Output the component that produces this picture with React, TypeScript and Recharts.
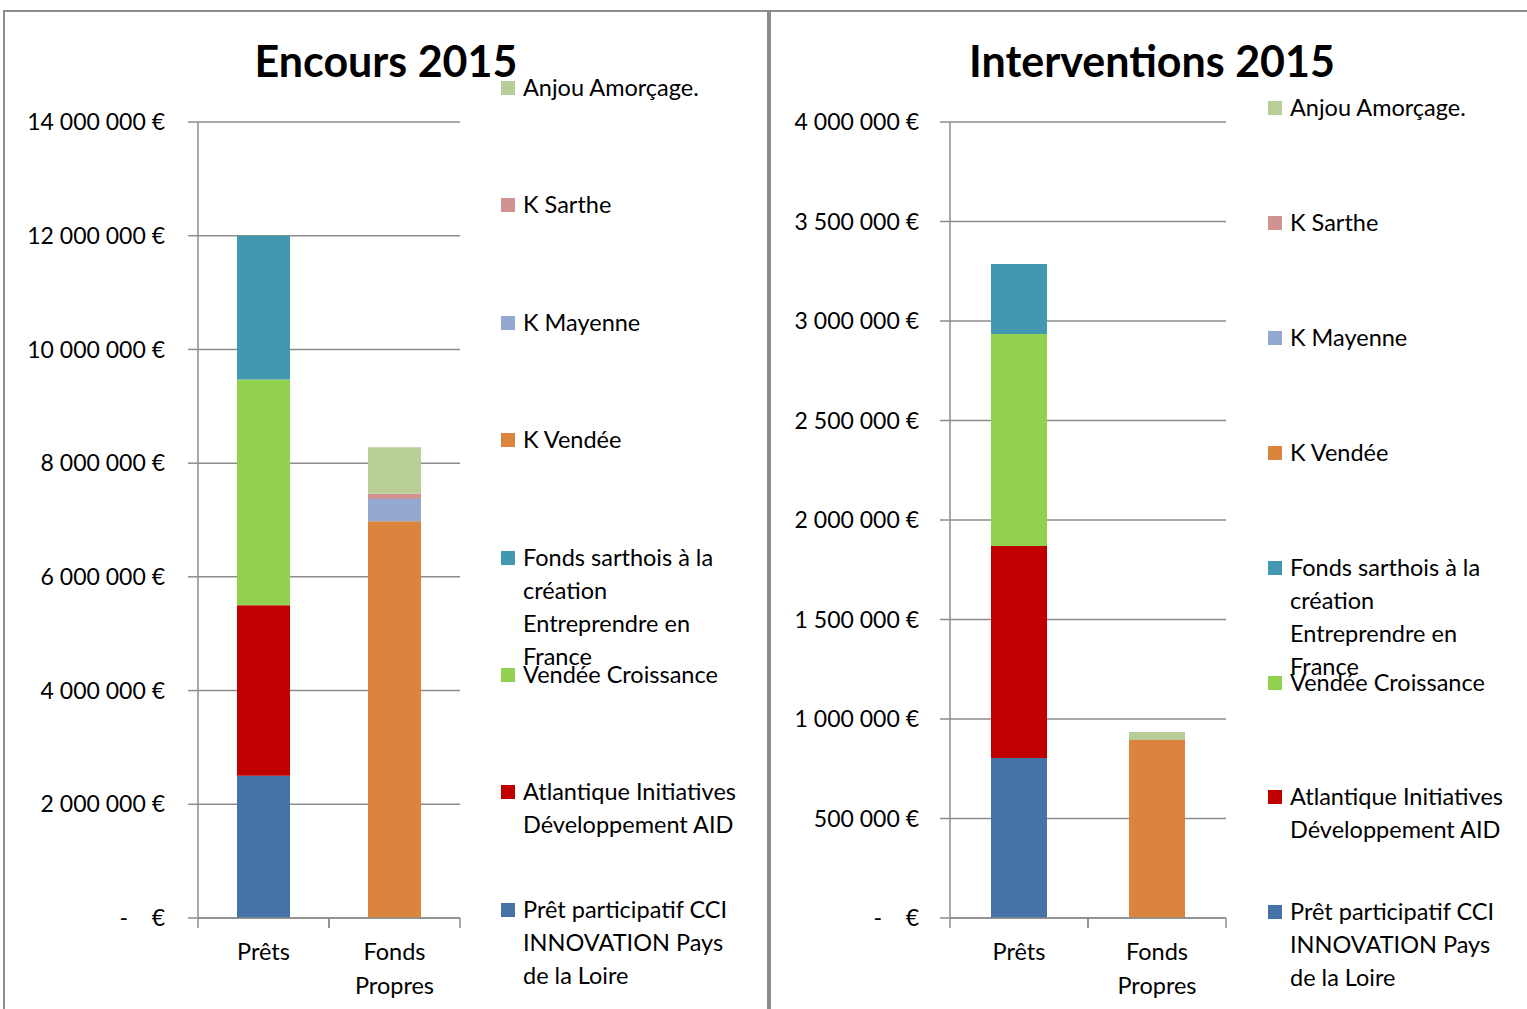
import React from 'react';
import { BarChart, Bar, XAxis, YAxis, CartesianGrid } from 'recharts';

const categories = ['Prêts', 'Fonds Propres'];

// stack order, bottom to top
const seriesNames = [
  'Prêt participatif CCI\nINNOVATION Pays\nde la Loire',
  'Atlantique Initiatives\nDéveloppement AID',
  'Vendée Croissance',
  'Fonds sarthois à la\ncréation\nEntreprendre en\nFrance',
  'K Vendée',
  'K Mayenne',
  'K Sarthe',
  'Anjou Amorçage.',
];
const seriesColors = ['#4572A7', '#C00000', '#92D050', '#4198AF', '#DB843D', '#93A9CF', '#D19392', '#B9CD96'];

const encoursPrets = [2500000, 3000000, 3970000, 2530000, 0, 0, 0, 0];
const encoursFonds = [0, 0, 0, 0, 6980000, 390000, 90000, 820000];
const interPrets = [804000, 1065000, 1066000, 351000, 0, 0, 0, 0];
const interFonds = [0, 0, 0, 0, 894000, 0, 0, 41000];

const encoursTicks = [0, 2000000, 4000000, 6000000, 8000000, 10000000, 12000000, 14000000];
const interTicks = [0, 500000, 1000000, 1500000, 2000000, 2500000, 3000000, 3500000, 4000000];

const FONT = 'Lato, "Open Sans", sans-serif';
const GRID = '#8c8c8c';
const H = 1009;

const buildRows = (a: number[], b: number[]) =>
  categories.map((name, i) => {
    const src = i === 0 ? a : b;
    const row: any = { name };
    src.forEach((v, k) => { row['s' + k] = v; });
    return row;
  });

const fmt = (v: number) => {
  if (v === 0) return '-\u00A0\u00A0\u00A0\u00A0€';
  return String(v).replace(/\B(?=(\d{3})+(?!\d))/g, '\u00A0') + '\u00A0€';
};

type PanelProps = {
  left: number;
  width: number;
  plotLeft: number;
  plotRight: number;
  title: string;
  titleCenter: number;
  rows: any[];
  ticks: number[];
  barSize: number;
  tickMargin: number;
  legendX: number;
  legendY0: number;
  legendStep: number;
};

const Panel: React.FC<PanelProps> = (p) => {
  const band = (p.plotRight - p.plotLeft) / categories.length;
  const XTick = ({ x, y, payload }: any) => {
    const words = String(payload.value).split(' ');
    return (
      <g>
        <line x1={x - band / 2} x2={x - band / 2} y1={y} y2={y + 10} stroke={GRID} strokeWidth={1.5} />
        <line x1={x + band / 2} x2={x + band / 2} y1={y} y2={y + 10} stroke={GRID} strokeWidth={1.5} />
        {words.map((w, i) => (
          <text key={i} x={x} y={y + 42 + i * 34} textAnchor="middle" fontSize={23.5} fontFamily={FONT} fill="#000">
            {w}
          </text>
        ))}
      </g>
    );
  };
  const legendOrder = seriesNames.map((_, i) => i).reverse();
  return (
    <>
      <div
        style={{
          position: 'absolute', left: p.titleCenter - 300, width: 600, top: 35, textAlign: 'center',
          fontFamily: FONT, fontWeight: 700, fontSize: 43, lineHeight: '52px', color: '#000',
        }}
      >
        {p.title}
      </div>
      <div style={{ position: 'absolute', left: p.left, top: 0 }}>
        <BarChart
          width={p.width}
          height={H}
          data={p.rows}
          margin={{ top: 122, bottom: H - 918 - 80, left: 0, right: p.left + p.width - p.plotRight }}
          barSize={p.barSize}
        >
          <CartesianGrid vertical={false} stroke={GRID} strokeWidth={1.5} />
          <XAxis
            dataKey="name"
            height={80}
            axisLine={{ stroke: GRID, strokeWidth: 1.5 }}
            tickLine={false}
            tickSize={0}
            tickMargin={0}
            tick={<XTick />}
            interval={0}
          />
          <YAxis
            width={p.plotLeft - p.left}
            domain={[0, p.ticks[p.ticks.length - 1]]}
            ticks={p.ticks}
            interval={0}
            tickFormatter={fmt}
            axisLine={{ stroke: GRID, strokeWidth: 1.5 }}
            tickLine={{ stroke: GRID, strokeWidth: 1.5 }}
            tickSize={10}
            tickMargin={p.tickMargin}
            tick={{ fill: '#000', fontSize: 23, fontFamily: FONT }}
          />
          {seriesNames.map((n, k) => (
            <Bar key={k} dataKey={'s' + k} name={n} stackId="a" fill={seriesColors[k]} isAnimationActive={false} />
          ))}
        </BarChart>
      </div>
      {legendOrder.map((k, j) => {
        const cy = p.legendY0 + j * p.legendStep;
        return (
          <div key={k}>
            <div
              style={{
                position: 'absolute', left: p.legendX, top: cy - 7, width: 14, height: 14,
                background: seriesColors[k],
              }}
            />
            <div
              style={{
                position: 'absolute', left: p.legendX + 22, top: cy - 17, whiteSpace: 'pre',
                fontFamily: FONT, fontSize: 23.5, lineHeight: '33px', color: '#000',
              }}
            >
              {seriesNames[k]}
            </div>
          </div>
        );
      })}
    </>
  );
};

export default function App() {
  return (
    <div style={{ position: 'absolute', left: 0, top: 0, width: 1527, height: H, overflow: 'hidden', background: '#fff' }}>
      <div style={{ position: 'absolute', left: 3, top: 10, width: 766, height: 1100, border: '2px solid #8c8c8c', boxSizing: 'border-box' }} />
      <div style={{ position: 'absolute', left: 769, top: 10, width: 800, height: 1100, border: '2px solid #8c8c8c', boxSizing: 'border-box' }} />
      <Panel
        left={0}
        width={768}
        plotLeft={198}
        plotRight={460}
        title="Encours 2015"
        titleCenter={386}
        rows={buildRows(encoursPrets, encoursFonds)}
        ticks={encoursTicks}
        barSize={53}
        tickMargin={23}
        legendX={501}
        legendY0={88}
        legendStep={117.4}
      />
      <Panel
        left={770}
        width={757}
        plotLeft={950}
        plotRight={1226}
        title="Interventions 2015"
        titleCenter={1152}
        rows={buildRows(interPrets, interFonds)}
        ticks={interTicks}
        barSize={56}
        tickMargin={21}
        legendX={1268}
        legendY0={108}
        legendStep={114.9}
      />
    </div>
  );
}
